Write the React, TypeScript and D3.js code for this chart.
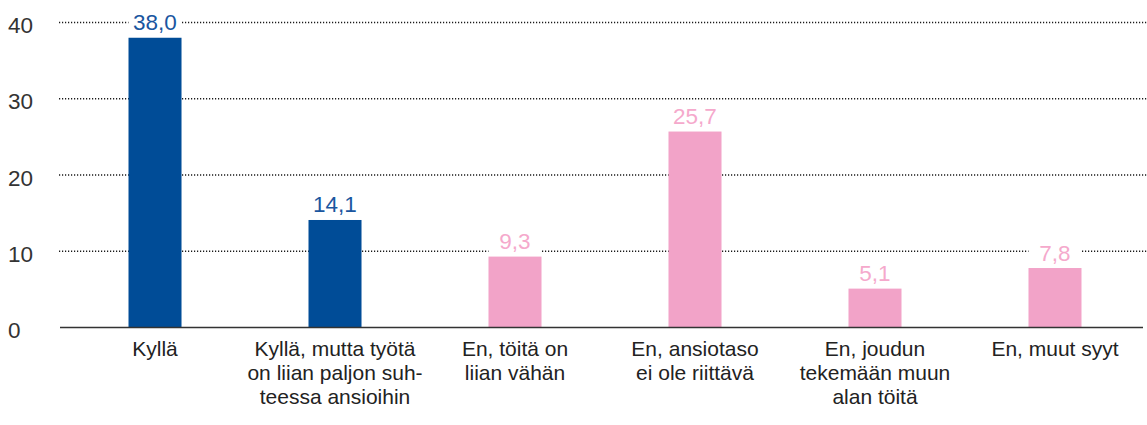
import React from "react";
import * as d3 from "d3";

const categories: string[][] = [
  ["Kyllä"],
  ["Kyllä, mutta työtä", "on liian paljon suh-", "teessa ansioihin"],
  ["En, töitä on", "liian vähän"],
  ["En, ansiotaso", "ei ole riittävä"],
  ["En, joudun", "tekemään muun", "alan töitä"],
  ["En, muut syyt"],
];
const values: number[] = [38.0, 14.1, 9.3, 25.7, 5.1, 7.8];
const groups: string[] = ["yes", "yes", "no", "no", "no", "no"];
const yTicks: number[] = [0, 10, 20, 30, 40];

const W = 1147;
const H = 425;
const FONT = "'Liberation Sans', Arial, Helvetica, sans-serif";

export default function App() {
  const x = d3
    .scaleBand<number>()
    .domain(values.map((_, i) => i))
    .range([65, 1145])
    .paddingInner(0.7055)
    .paddingOuter(0.3528);
  const y = d3.scaleLinear().domain([0, 40]).range([327.5, 22.5]);
  const barColor = d3.scaleOrdinal<string, string>().domain(["yes", "no"]).range(["#004c97", "#f2a3c8"]);
  const labelColor = d3.scaleOrdinal<string, string>().domain(["yes", "no"]).range(["#1a56a0", "#f5a9cc"]);
  const fmt = (v: number) => d3.format(".1f")(v).replace(".", ",");
  const bw = x.bandwidth();

  return (
    <div style={{ position: "absolute", left: 0, top: 0 }}>
      <svg width={W} height={H} style={{ display: "block", background: "#fff" }} fontFamily={FONT}>
        {yTicks.filter((t) => t > 0).map((t) => (
          <line key={"g" + t} x1={59} x2={W} y1={y(t)} y2={y(t)} stroke="#1a1a1a" strokeWidth={1.3} strokeDasharray="1.2,1.8" />
        ))}
        {yTicks.map((t) => (
          <text key={"t" + t} x={8} y={y(t) + 10.5} fontSize={22.5} fill="#333">
            {t}
          </text>
        ))}
        {values.map((v, i) => (
          <rect key={"b" + i} x={x(i)} y={y(v)} width={bw} height={y(0) - y(v)} fill={barColor(groups[i])} />
        ))}
        {values.map((v, i) => (
          <g key={"l" + i}>
            <rect x={x(i)} y={y(v) - 25} width={bw} height={20.5} fill="#fff" />
            <text x={(x(i) as number) + bw / 2} y={y(v) - 7.5} textAnchor="middle" fontSize={22.5} fill={labelColor(groups[i])}>
              {fmt(v)}
            </text>
          </g>
        ))}
        <line x1={60} x2={1143} y1={y(0)} y2={y(0)} stroke="#333" strokeWidth={1.5} />
        {categories.map((lines, i) => (
          <text key={"c" + i} textAnchor="middle" fontSize={21} fill="#222">
            {lines.map((ln, j) => (
              <tspan key={j} x={(x(i) as number) + bw / 2} y={356 + j * 24}>
                {ln}
              </tspan>
            ))}
          </text>
        ))}
      </svg>
    </div>
  );
}
